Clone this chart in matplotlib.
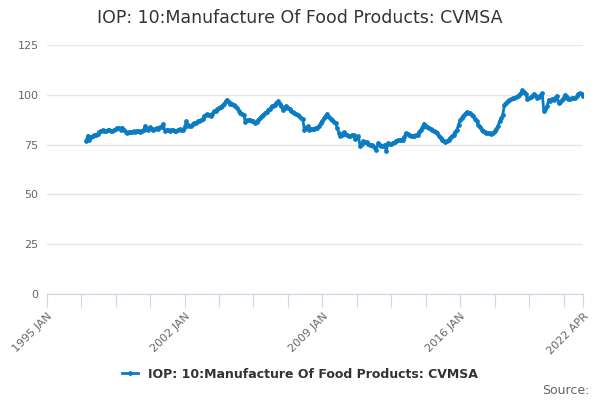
import pandas as pd
import matplotlib
matplotlib.use("Agg")
import matplotlib.pyplot as plt

title = "IOP: 10:Manufacture Of Food Products: CVMSA"
series_name = "IOP: 10:Manufacture Of Food Products: CVMSA"
start_month = "1997-01-01"

# monthly values, 1997 JAN .. 2022 APR
v1997 = [77, 79.5, 77.5, 79, 79.3, 79.6, 80, 80.3, 81.5, 82, 82.3, 81.8]
v1998 = [81.7, 82.2, 82.5, 82, 81.7, 82.3, 82.8, 83.5, 83.3, 82.2, 83.5, 82.5]
v1999 = [81.5, 80.8, 81.3, 81.2, 81.5, 81.7, 81.3, 82, 81.6, 81.2, 82, 82.5]
v2000 = [84.2, 82.8, 82.5, 83.8, 83, 82.5, 83, 83.3, 82.8, 83.7, 84, 85.3]
v2001 = [81.7, 82.3, 82.5, 81.8, 82.2, 82.5, 82, 81.8, 82.5, 82.8, 82.2, 82.5]
v2002 = [83.8, 86.7, 85, 84.5, 84.2, 85.2, 85.8, 86, 86.7, 87, 87.2, 88]
v2003 = [89.5, 90, 90.3, 89.8, 89.5, 90.5, 91.7, 92, 92.8, 93.5, 94, 94.5]
v2004 = [95.5, 96.7, 97.5, 96.5, 95.5, 95.5, 95, 94.5, 93.3, 92, 90.8, 90.5]
v2005 = [90, 86.3, 87.2, 87.5, 87.5, 87, 86.7, 85.8, 86.5, 87.5, 88.5, 89.5]
v2006 = [90, 90.8, 91.5, 92.2, 93, 94.2, 94.5, 95, 96, 96.7, 95.5, 94.2]
v2007 = [92.5, 93.5, 94.5, 93.5, 92.8, 92, 91.2, 90.8, 90.3, 89.8, 89.2, 88.5]
v2008 = [87.8, 82.5, 83.5, 84.2, 82.5, 83, 82.8, 83, 83.5, 83.3, 84.5, 85.8]
v2009 = [87, 88.3, 89.5, 90.5, 88.8, 88, 87.5, 86.5, 85.8, 83.3, 81, 79.2]
v2010 = [80, 81.2, 80.5, 80, 79.5, 79.2, 79.8, 80, 77.8, 78.5, 79.2, 74.2]
v2011 = [75.5, 76.7, 76.5, 76.2, 75.5, 75, 74.8, 74.2, 73.5, 72.5, 75.8, 75]
v2012 = [74.2, 74.5, 75, 71.7, 75.8, 75.5, 75.5, 76, 76.2, 76.8, 77.2, 77.3]
v2013 = [77.5, 77.5, 79, 80.8, 80.3, 80, 79.5, 79.2, 79.5, 79.8, 80, 81.3]
v2014 = [82.5, 84, 85.5, 84.5, 83.8, 83.3, 82.8, 82.3, 81.7, 81.2, 80.8, 79.5]
v2015 = [78.3, 77.5, 76.7, 76.5, 76.7, 77.5, 78.3, 79.2, 80, 81.2, 82.5, 85]
v2016 = [87.5, 88.3, 89.2, 90.5, 91.3, 91, 90.8, 90, 89.2, 88, 86.7, 85]
v2017 = [83.8, 82.5, 81.8, 81.2, 81, 80.8, 80.7, 80.5, 81, 81.7, 82.8, 84.2]
v2018 = [86.7, 88.3, 90, 95, 96, 96.7, 97.3, 97.8, 98.2, 98.5, 98.8, 99.3]
v2019 = [100, 101, 102.2, 101.3, 100.5, 97.8, 98.3, 98.8, 99.5, 100.5, 99.5, 98.3]
v2020 = [99, 100, 100.8, 91.7, 93, 94.2, 97.5, 97, 97.8, 97.5, 98.5, 99.5]
v2021 = [95.8, 96.5, 97.2, 98.5, 100, 99, 97.8, 98, 98.3, 98.5, 98.3, 99.2]
v2022 = [100.5, 100.8, 100.5, 99.2]

values = (v1997 + v1998 + v1999 + v2000 + v2001 + v2002 + v2003 + v2004 + v2005
          + v2006 + v2007 + v2008 + v2009 + v2010 + v2011 + v2012 + v2013 + v2014
          + v2015 + v2016 + v2017 + v2018 + v2019 + v2020 + v2021 + v2022)
dates = pd.date_range(start_month, periods=len(values), freq="MS")

y_ticks = [0, 25, 50, 75, 100, 125]
x_label_at = {"1995-01-01": "1995 JAN", "2002-01-01": "2002 JAN",
              "2009-01-01": "2009 JAN", "2016-01-01": "2016 JAN",
              "2022-04-01": "2022 APR"}

blue = "#0a7cc4"
grey = "#666666"

fig = plt.figure(figsize=(6, 4), dpi=100)
ax = fig.add_axes([0.078, 0.265, 0.894, 0.6225])

ax.plot(dates, values, color=blue, lw=2, marker="o", ms=2.4,
        label=series_name, zorder=3)

ax.set_ylim(0, 125)
ax.set_yticks(y_ticks)
ax.set_xlim(pd.Timestamp("1995-01-01"), pd.Timestamp("2022-04-01"))

xt = list(pd.date_range("1995-01-01", periods=16, freq="21MS")) + [pd.Timestamp("2022-04-01")]
ax.set_xticks(xt)
ax.set_xticklabels([x_label_at.get(d.strftime("%Y-%m-%d"), "") for d in xt],
                   rotation=45, ha="right", va="top", rotation_mode="anchor")

ax.grid(axis="y", color="#e6e6e6", lw=1)
ax.set_axisbelow(True)
for s in ["top", "right", "left"]:
    ax.spines[s].set_visible(False)
ax.spines["bottom"].set_color("#ccd6eb")
ax.tick_params(axis="x", length=9, color="#ccd6eb", labelcolor=grey, labelsize=8, pad=3)
ax.tick_params(axis="y", length=0, labelcolor=grey, labelsize=8, pad=6)

fig.text(0.5, 0.955, title, ha="center", va="center", fontsize=12.5, color="#333333")

leg = fig.legend(loc="center", bbox_to_anchor=(0.5, 0.065), frameon=False,
                 handlelength=1.3, prop={"weight": "bold", "size": 9})
for t in leg.get_texts():
    t.set_color("#333333")

fig.text(0.983, 0.025, "Source:", ha="right", va="center", fontsize=9, color=grey)

fig.savefig("out.png", dpi=100)
